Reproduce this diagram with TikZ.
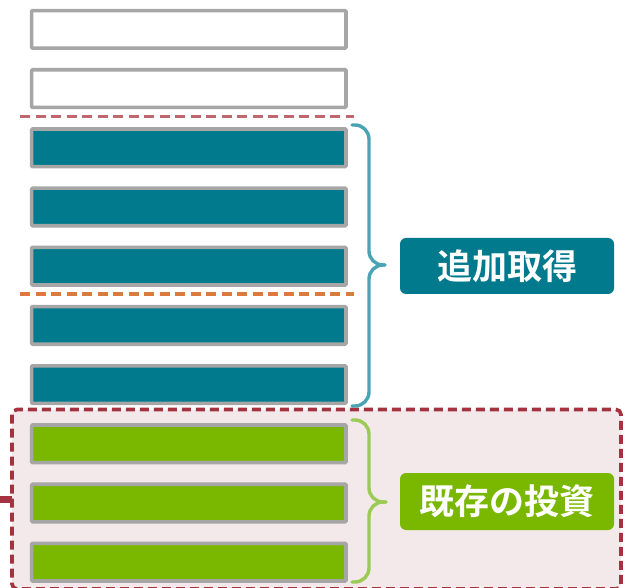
\documentclass[tikz,border=0pt]{standalone}
\usepackage{fontspec}
\newfontfamily\cjk{Noto Sans CJK JP Bold}
\definecolor{tealfill}{HTML}{007A8C}
\definecolor{greenfill}{HTML}{7AB800}
\definecolor{boxgray}{HTML}{A6A6A6}
\definecolor{tealbrace}{HTML}{4AA3B4}
\definecolor{greenbrace}{HTML}{9CCB55}
\definecolor{rosedash}{HTML}{C0666E}
\definecolor{orangedash}{HTML}{DA7A3E}
\definecolor{redborder}{HTML}{A5323F}
\definecolor{pinkfill}{HTML}{F3E8EA}
\tikzset{
  bar/.style={draw=boxgray, line width=3.6pt, rounded corners=1pt},
  blankbar/.style={bar, fill=white},
  tealbar/.style={bar, fill=tealfill},
  greenbar/.style={bar, fill=greenfill},
  label/.style={rounded corners=6pt, text=white, font=\cjk\fontsize{35}{35}\selectfont, inner sep=0pt, minimum width=214pt},
  brace/.style={line width=3.4pt, line cap=round, rounded corners=14pt}
}
\begin{document}
\begin{tikzpicture}[x=1pt,y=-1pt]
\useasboundingbox (0,0) rectangle (627,588);
% existing-investment frame
\draw[redborder, line width=3.6pt, fill=pinkfill, dash pattern=on 9pt off 5pt, rounded corners=5pt] (12,409.5) rectangle (621,589);
\draw[redborder, line width=7pt] (0,499.5) -- (12,499.5);
% bars
\foreach \i/\s in {0/blankbar,1/blankbar,2/tealbar,3/tealbar,4/tealbar,5/tealbar,6/tealbar,7/greenbar,8/greenbar,9/greenbar}{
  \pgfmathsetmacro{\yy}{8.8+59.2*\i}
  \node[\s, minimum width=314.4pt, minimum height=37.6pt, anchor=north west, inner sep=0pt] (b\i) at (29.8,\yy) {};
}
% dashed separators
\coordinate (r1) at (20,116.5);
\coordinate (r2) at (354,116.5);
\draw[rosedash, line width=3.8pt, dash pattern=on 10pt off 5.5pt] (r1) -- (r2);
\coordinate (o1) at (20,294);
\coordinate (o2) at (354,294);
\draw[orangedash, line width=3.8pt, dash pattern=on 10pt off 5.5pt] (o1) -- (o2);
% labels
\node[label, fill=tealfill, minimum height=56pt] (lt) at (507,266) {追加取得};
\node[label, fill=greenfill, minimum height=57pt] (lg) at (507,501.5) {既存の投資};
% braces
\draw[tealbrace, brace] (352,125) -- (369,125) -- (369,265) -- (385,265);
\draw[tealbrace, brace] (385,265) -- (369,265) -- (369,406) -- (352,406);
\draw[greenbrace, brace] (352,420) -- (369,420) -- (369,502) -- (386,502);
\draw[greenbrace, brace] (386,502) -- (369,502) -- (369,582) -- (352,582);
\end{tikzpicture}
\end{document}
